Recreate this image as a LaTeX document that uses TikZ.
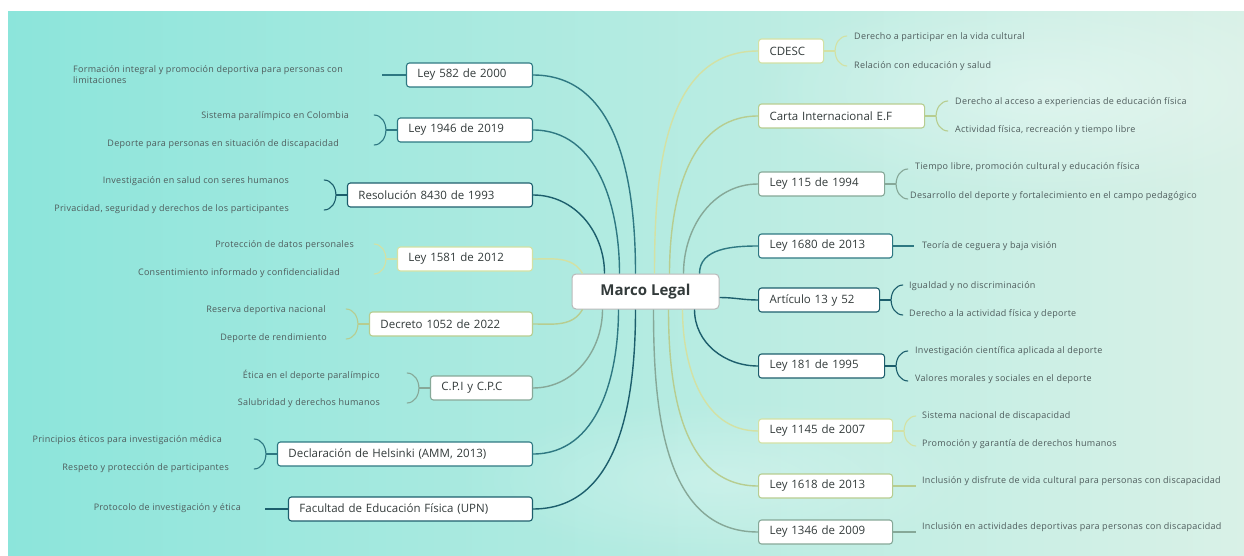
\documentclass[tikz,border=0pt]{standalone}
\usepackage{fontspec}
\setmainfont{Open Sans}
\newfontfamily\ideafont[LetterSpace=3]{Open Sans}
\usetikzlibrary{calc,fadings}

\definecolor{tealosc}{HTML}{1C5E6C}
\definecolor{tealmed}{HTML}{2E7882}
\definecolor{grisv}{HTML}{86A898}
\definecolor{oliva}{HTML}{B7CD90}
\definecolor{palido}{HTML}{D3E1A4}
\definecolor{texto}{HTML}{333B3B}
\definecolor{etiq}{HTML}{4E5C5C}
\definecolor{aguaA}{HTML}{8CE5DB}
\definecolor{aguaB}{HTML}{C6F0EA}
\definecolor{aguaC}{HTML}{D9F1E7}

\tikzfading[name=nube, inner color=transparent!0, outer color=transparent!100]

\begin{document}
\begin{tikzpicture}[x=1pt,y=1pt,
  ley/.style={draw=#1, fill=white, rounded corners=3pt, line width=1.1pt, inner xsep=11pt, inner ysep=0pt, minimum height=24pt, align=left, text=texto, font=\fontsize{11.5}{13}\selectfont},
  centro/.style={draw=gray!55, fill=white, rounded corners=4pt, line width=1pt, minimum width=147pt, minimum height=35pt, font=\fontsize{15}{17}\selectfont\bfseries, text=texto},
  idea/.style={inner sep=0pt, text=etiq, font=\ideafont\fontsize{9}{11}\selectfont},
  rama/.style={draw=#1, line width=1.4pt},
  llave/.style={draw=#1, line width=1.1pt}]
\useasboundingbox (0,0) rectangle (1244,-556);
% fondo
\fill[white] (0,0) rectangle (1244,-556);
\shade[left color=aguaA, middle color=aguaB, right color=aguaC] (8,-12) rectangle (1244,-556);
\fill[white, opacity=0.35, path fading=nube] (1050,-90) ellipse (300 and 110);
\fill[white, opacity=0.25, path fading=nube] (720,-480) ellipse (260 and 80);

\node[centro] (marco) at (645.5,-291.5) {Marco Legal};

% rama izquierda
\node[ley=tealmed, anchor=east, text width=104pt] (l1) at (533,-75) {Ley 582 de 2000};
\node[ley=tealmed, anchor=east, text width=113pt] (l2) at (533,-130) {Ley 1946 de 2019};
\node[ley=tealosc, anchor=east, text width=163pt] (l3) at (533,-195) {Resolución 8430 de 1993};
\node[ley=palido, anchor=east, text width=113pt] (l4) at (533,-259) {Ley 1581 de 2012};
\node[ley=oliva, anchor=east, text width=141pt] (l5) at (533,-324) {Decreto 1052 de 2022};
\node[ley=grisv, anchor=east, text width=80pt] (l6) at (533,-388) {C.P.I y C.P.C};
\node[ley=tealmed, anchor=east, text width=233pt] (l7) at (533,-454) {Declaración de Helsinki (AMM, 2013)};
\node[ley=tealosc, anchor=east, text width=222pt] (l8) at (533,-509) {Facultad de Educación Física (UPN)};

% rama derecha
\node[ley=palido, anchor=west, text width=43pt] (r1) at (758,-51) {CDESC};
\node[ley=oliva, anchor=west, text width=144pt] (r2) at (758,-116) {Carta Internacional E.F};
\node[ley=grisv, anchor=west, text width=104pt] (r3) at (758,-184) {Ley 115 de 1994};
\node[ley=tealmed, anchor=west, text width=112pt] (r4) at (758,-246) {Ley 1680 de 2013};
\node[ley=tealosc, anchor=west, text width=99pt] (r5) at (758,-300) {Artículo 13 y 52};
\node[ley=tealosc, anchor=west, text width=104pt] (r6) at (758,-366) {Ley 181 de 1995};
\node[ley=palido, anchor=west, text width=112pt] (r7) at (758,-431) {Ley 1145 de 2007};
\node[ley=oliva, anchor=west, text width=112pt] (r8) at (758,-486) {Ley 1618 de 2013};
\node[ley=grisv, anchor=west, text width=112pt] (r9) at (758,-532) {Ley 1346 de 2009};

% conectores al centro
\draw[rama=tealmed] (l1.east) to[out=0,in=90] ([xshift=64]marco.north west);
\draw[rama=tealmed] (l2.east) to[out=0,in=90] ([xshift=48]marco.north west);
\draw[rama=tealosc] (l3.east) to[out=0,in=90] ([xshift=33]marco.north west);
\draw[rama=palido] (l4.east) to[out=0,in=120] ([xshift=11]marco.north west);
\draw[rama=oliva] (l5.east) to[out=0,in=-120] ([xshift=11]marco.south west);
\draw[rama=grisv] (l6.east) to[out=0,in=-90] ([xshift=31]marco.south west);
\draw[rama=tealmed] (l7.east) to[out=0,in=-90] ([xshift=47]marco.south west);
\draw[rama=tealosc] (l8.east) to[out=0,in=-90] ([xshift=64]marco.south west);
\draw[rama=palido] (r1.west) to[out=180,in=90] ([xshift=83]marco.north west);
\draw[rama=oliva] (r2.west) to[out=180,in=90] ([xshift=98]marco.north west);
\draw[rama=grisv] (r3.west) to[out=180,in=90] ([xshift=112]marco.north west);
\draw[rama=tealmed] (r4.west) to[out=180,in=90] ([xshift=128]marco.north west);
\draw[rama=tealosc] ([yshift=-6]marco.east) to[out=0,in=180] (r5.west);
\draw[rama=tealosc] (r6.west) to[out=180,in=-90] ([xshift=123]marco.south west);
\draw[rama=palido] (r7.west) to[out=180,in=-90] ([xshift=111]marco.south west);
\draw[rama=oliva] (r8.west) to[out=180,in=-90] ([xshift=97]marco.south west);
\draw[rama=grisv] (r9.west) to[out=180,in=-90] ([xshift=82]marco.south west);

% llaves izquierda
\draw[llave=tealmed] (l1.west) -- ++(-24,0);
\draw[llave=tealmed] (l2.west) -- ++(-11,0) coordinate (k2);
\draw[llave=tealmed] ($(k2)+(-12,15)$) to[out=0,in=90] (k2) to[out=-90,in=0] ($(k2)+(-12,-15)$);
\draw[llave=tealosc] (l3.west) -- ++(-11,0) coordinate (k3);
\draw[llave=tealosc] ($(k3)+(-12,15)$) to[out=0,in=90] (k3) to[out=-90,in=0] ($(k3)+(-12,-15)$);
\draw[llave=palido] (l4.west) -- ++(-11,0) coordinate (k4);
\draw[llave=palido] ($(k4)+(-12,15)$) to[out=0,in=90] (k4) to[out=-90,in=0] ($(k4)+(-12,-15)$);
\draw[llave=oliva] (l5.west) -- ++(-11,0) coordinate (k5);
\draw[llave=oliva] ($(k5)+(-12,15)$) to[out=0,in=90] (k5) to[out=-90,in=0] ($(k5)+(-12,-15)$);
\draw[llave=grisv] (l6.west) -- ++(-11,0) coordinate (k6);
\draw[llave=grisv] ($(k6)+(-12,15)$) to[out=0,in=90] (k6) to[out=-90,in=0] ($(k6)+(-12,-15)$);
\draw[llave=tealmed] (l7.west) -- ++(-11,0) coordinate (k7);
\draw[llave=tealmed] ($(k7)+(-12,15)$) to[out=0,in=90] (k7) to[out=-90,in=0] ($(k7)+(-12,-15)$);
\draw[llave=tealosc] (l8.west) -- ++(-23,0);

% llaves derecha
\draw[llave=palido] (r1.east) -- ++(11,0) coordinate (q1);
\draw[llave=palido] ($(q1)+(12,15)$) to[out=180,in=90] (q1) to[out=-90,in=180] ($(q1)+(12,-15)$);
\draw[llave=oliva] (r2.east) -- ++(11,0) coordinate (q2);
\draw[llave=oliva] ($(q2)+(12,15)$) to[out=180,in=90] (q2) to[out=-90,in=180] ($(q2)+(12,-15)$);
\draw[llave=grisv] (r3.east) -- ++(11,0) coordinate (q3);
\draw[llave=grisv] ($(q3)+(12,15)$) to[out=180,in=90] (q3) to[out=-90,in=180] ($(q3)+(12,-15)$);
\draw[llave=tealmed] (r4.east) -- ++(21,0);
\draw[llave=tealosc] (r5.east) -- ++(11,0) coordinate (q5);
\draw[llave=tealosc] ($(q5)+(12,15)$) to[out=180,in=90] (q5) to[out=-90,in=180] ($(q5)+(12,-15)$);
\draw[llave=tealosc] (r6.east) -- ++(11,0) coordinate (q6);
\draw[llave=tealosc] ($(q6)+(12,15)$) to[out=180,in=90] (q6) to[out=-90,in=180] ($(q6)+(12,-15)$);
\draw[llave=palido] (r7.east) -- ++(11,0) coordinate (q7);
\draw[llave=palido] ($(q7)+(12,15)$) to[out=180,in=90] (q7) to[out=-90,in=180] ($(q7)+(12,-15)$);
\draw[llave=oliva] (r8.east) -- ++(23,0);
\draw[llave=grisv] (r9.east) -- ++(23,0);

% ideas izquierda
\node[idea, anchor=west, align=left] (l1a) at (73,-75) {Formación integral y promoción deportiva para personas con\\limitaciones};
\node[idea, anchor=east] (l2a) at (349,-116) {Sistema paralímpico en Colombia};
\node[idea, anchor=east] (l2b) at (339,-144) {Deporte para personas en situación de discapacidad};
\node[idea, anchor=east] (l3a) at (289,-181) {Investigación en salud con seres humanos};
\node[idea, anchor=east] (l3b) at (289,-209) {Privacidad, seguridad y derechos de los participantes};
\node[idea, anchor=east] (l4a) at (354,-245) {Protección de datos personales};
\node[idea, anchor=east] (l4b) at (340,-273) {Consentimiento informado y confidencialidad};
\node[idea, anchor=east] (l5a) at (326,-310) {Reserva deportiva nacional};
\node[idea, anchor=east] (l5b) at (327,-338) {Deporte de rendimiento};
\node[idea, anchor=east] (l6a) at (380,-375) {Ética en el deporte paralímpico};
\node[idea, anchor=east] (l6b) at (380,-403) {Salubridad y derechos humanos};
\node[idea, anchor=east] (l7a) at (222,-440) {Principios éticos para investigación médica};
\node[idea, anchor=east] (l7b) at (229,-468) {Respeto y protección de participantes};
\node[idea, anchor=east] (l8a) at (241,-508) {Protocolo de investigación y ética};

% ideas derecha
\node[idea, anchor=west] (r1a) at (854,-37) {Derecho a participar en la vida cultural};
\node[idea, anchor=west] (r1b) at (854,-66) {Relación con educación y salud};
\node[idea, anchor=west] (r2a) at (955,-102) {Derecho al acceso a experiencias de educación física};
\node[idea, anchor=west] (r2b) at (955,-130) {Actividad física, recreación y tiempo libre};
\node[idea, anchor=west] (r3a) at (915,-167) {Tiempo libre, promoción cultural y educación física};
\node[idea, anchor=west] (r3b) at (910,-196) {Desarrollo del deporte y fortalecimiento en el campo pedagógico};
\node[idea, anchor=west] (r4a) at (922,-246) {Teoría de ceguera y baja visión};
\node[idea, anchor=west] (r5a) at (909,-286) {Igualdad y no discriminación};
\node[idea, anchor=west] (r5b) at (909,-314) {Derecho a la actividad física y deporte};
\node[idea, anchor=west] (r6a) at (915,-351) {Investigación científica aplicada al deporte};
\node[idea, anchor=west] (r6b) at (915,-379) {Valores morales y sociales en el deporte};
\node[idea, anchor=west] (r7a) at (922,-416) {Sistema nacional de discapacidad};
\node[idea, anchor=west] (r7b) at (922,-444) {Promoción y garantía de derechos humanos};
\node[idea, anchor=west] (r8a) at (922,-481) {Inclusión y disfrute de vida cultural para personas con discapacidad};
\node[idea, anchor=west] (r9a) at (922,-527) {Inclusión en actividades deportivas para personas con discapacidad};
\end{tikzpicture}
\end{document}
